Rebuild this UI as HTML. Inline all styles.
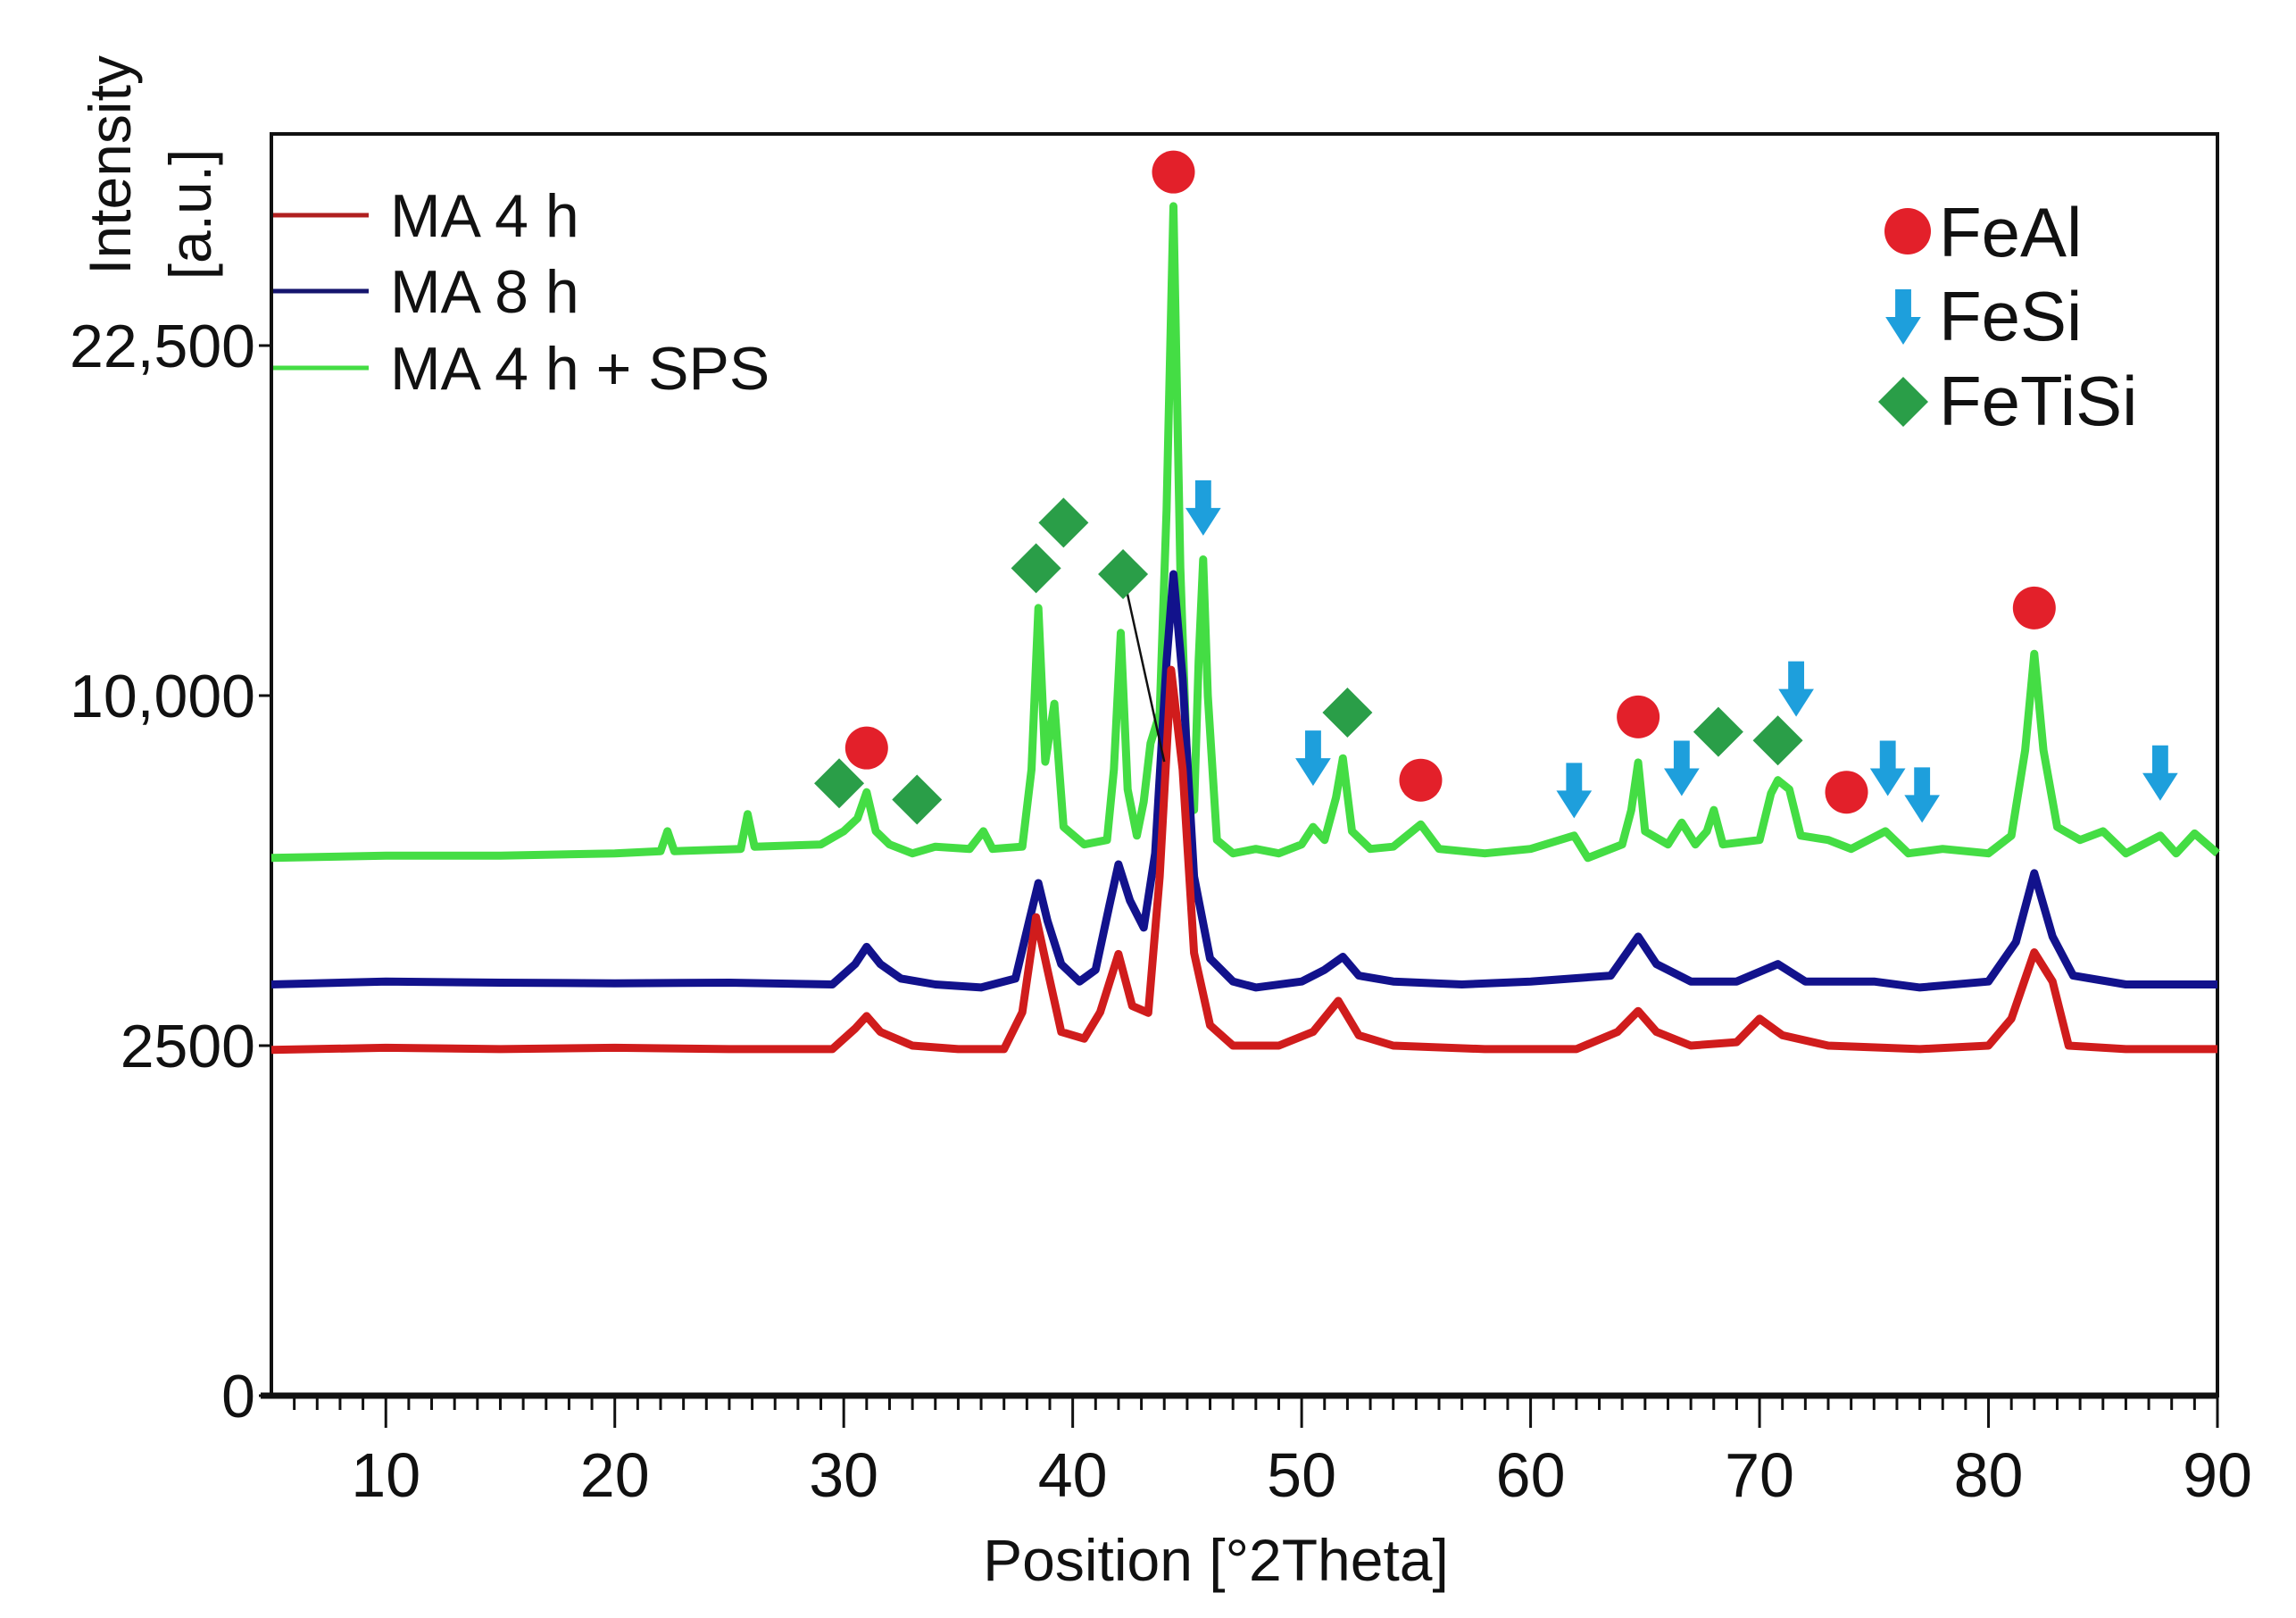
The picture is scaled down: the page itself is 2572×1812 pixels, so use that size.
<!DOCTYPE html>
<html><head><meta charset="utf-8"><style>
html,body{margin:0;padding:0;background:#fff;}
svg{display:block;font-family:"Liberation Sans",Arial,sans-serif;}
</style></head><body>
<svg id="chart" width="2572" height="1812" viewBox="0 0 2572 1812" xmlns="http://www.w3.org/2000/svg">
<rect width="2572" height="1812" fill="#fff"/>
<g id="axes"></g>
<g id="series"></g>
<g id="markers"></g>
</svg>
<script>
// ---- data ----
const xTicks = [10,20,30,40,50,60,70,80,90];
const yTicks = [0,2500,10000,22500];
const yTickLabels = ["0","2500","10,000","22,500"];
const ma4h = [[5,2440],[10,2470],[15,2450],[20,2470],[25,2450],[29.5,2450],[30.5,2750],[31,2940],[31.6,2700],[33,2500],[35,2450],[37,2450],[37.8,3000],[38.4,4670],[38.9,3700],[39.5,2700],[40.5,2600],[41.2,3000],[42,3980],[42.6,3100],[43.3,2990],[43.8,5500],[44.3,10750],[44.8,8000],[45.3,4000],[46,2800],[47,2500],[49,2500],[50.5,2700],[51.6,3180],[52.5,2650],[54,2500],[58,2450],[62,2450],[63.8,2700],[64.7,3020],[65.5,2700],[67,2500],[69,2550],[70,2900],[71,2650],[73,2500],[77,2450],[80,2500],[81,2900],[82,4010],[82.8,3500],[83.5,2500],[86,2450],[90,2450]];
const ma8h = [[5,3450],[10,3500],[15,3480],[20,3470],[25,3480],[29.5,3450],[30.5,3800],[31,4110],[31.6,3800],[32.5,3550],[34,3450],[36,3400],[37.5,3550],[38.1,4600],[38.5,5360],[38.9,4600],[39.5,3800],[40.3,3500],[41,3700],[41.6,4900],[42,5760],[42.5,5000],[43.1,4470],[43.6,6000],[44.1,11000],[44.4,13770],[44.8,10500],[45.3,5500],[46,3900],[47,3500],[48,3400],[50,3500],[51,3700],[51.8,3930],[52.5,3600],[54,3500],[57,3450],[60,3500],[63.5,3600],[64.7,4300],[65.5,3800],[67,3500],[69,3500],[70.8,3800],[72,3500],[75,3500],[77,3400],[80,3500],[81.2,4200],[82,5570],[82.8,4300],[83.7,3600],[86,3450],[90,3450]];
const ma4hSps = [[5,5900],[10,5950],[15,5950],[20,6000],[22,6050],[22.3,6500],[22.6,6050],[25.5,6100],[25.8,6900],[26.1,6150],[29,6200],[30,6500],[30.6,6800],[31,7430],[31.4,6500],[32,6200],[33,6000],[34,6150],[35.5,6100],[36.1,6500],[36.5,6100],[37.8,6150],[38.2,8000],[38.5,12660],[38.8,8200],[39.2,9770],[39.6,6600],[40.5,6200],[41.5,6300],[41.8,8000],[42.1,11870],[42.4,7500],[42.8,6400],[43.1,7200],[43.4,8680],[43.8,9500],[44.1,16000],[44.4,28870],[44.7,14000],[45.0,8000],[45.3,7000],[45.5,11000],[45.7,14270],[45.9,10000],[46.3,6300],[47,6000],[48,6100],[49,6000],[50,6200],[50.5,6600],[51,6300],[51.5,7300],[51.8,8290],[52.2,6500],[53,6100],[54,6150],[55.2,6660],[56,6100],[58,6000],[60,6100],[61.9,6400],[62.5,5900],[64,6200],[64.4,7000],[64.7,8180],[65,6500],[66,6200],[66.6,6700],[67.2,6200],[67.7,6500],[68,7000],[68.4,6200],[70,6300],[70.5,7400],[70.8,7730],[71.3,7500],[71.8,6400],[73,6300],[74,6100],[75.5,6500],[76.5,6000],[78,6100],[80,6000],[81,6400],[81.6,8500],[82,11230],[82.4,8500],[83,6600],[84,6300],[85,6500],[86,6000],[87.5,6400],[88.2,6000],[89,6450],[90,6000]];
const feAlPos = [[44.4,30550],[31,8560],[55.2,7730],[64.7,9400],[73.8,7430],[82,12660]];
const feSiPos = [[45.7,16080],[50.5,8290],[61.9,7470],[66.6,8030],[71.6,10190],[75.6,8030],[77.1,7360],[87.5,7910]];
const feTiSiPos = [[29.8,7650],[33.2,7250],[38.4,13970],[39.6,15550],[42.2,13770],[52,9520],[68.2,8990],[70.8,8760]];

// ---- scales ----
const X0=304, X1=2484, Y0=1563, TOP=150;
const xs = t => X0 + (t-5)*(X1-X0)/85;
const ys = v => Y0 - 7.84*Math.sqrt(Math.max(v,0));
const NS="http://www.w3.org/2000/svg";
function mk(tag, attrs, parent, txt){
  const e=document.createElementNS(NS,tag);
  for(const k in attrs) e.setAttribute(k,attrs[k]);
  if(txt!==undefined) e.textContent=txt;
  parent.appendChild(e); return e;
}
const axes=document.getElementById('axes');
const ser=document.getElementById('series');
const mkG=document.getElementById('markers');

// frame
let fr=mk('rect',{x:X0,y:TOP,width:X1-X0,height:Y0-TOP,fill:'none',stroke:'#111','stroke-width':4},axes);


let xl=mk('line',{x1:X0-12,y1:Y0,x2:X1,y2:Y0,stroke:'#111','stroke-width':7},axes);



// x ticks
for(let t=6;t<=90;t++){
  const major = t%10===0;
  const l=mk('line',{x1:xs(t),y1:Y0,x2:xs(t),y2:Y0+(major?36:16),stroke:'#111','stroke-width':3},axes);
  
  
}
xTicks.forEach(t=>{
  const tx=mk('text',{x:xs(t),y:1676,'font-size':70,'text-anchor':'middle',fill:'#111'},axes,String(t));
  
  
});
yTicks.forEach((v,i)=>{
  const l=mk('line',{x1:X0-14,y1:ys(v),x2:X0,y2:ys(v),stroke:'#111','stroke-width':3},axes);
  
  
  const tx=mk('text',{x:X0-18,y:ys(v)+24,'font-size':68,'text-anchor':'end',fill:'#111'},axes,yTickLabels[i]);
  
  
});
let xt=mk('text',{x:1362,y:1770,'font-size':66,'text-anchor':'middle',fill:'#111'},axes,'Position [°2Theta]');


let yt1=mk('text',{x:0,y:0,'font-size':66,'text-anchor':'middle',fill:'#111',transform:'translate(146,185) rotate(-90)'},axes,'Intensity');


let yt2=mk('text',{x:0,y:0,'font-size':66,'text-anchor':'middle',fill:'#111',transform:'translate(236,240) rotate(-90)'},axes,'[a.u.]');



// series
function drawSeries(arr,color,name){
  const d=arr.map((p,i)=>(i?'L':'M')+xs(p[0]).toFixed(1)+','+ys(p[1]).toFixed(1)).join(' ');
  const p=mk('path',{d:d,fill:'none',stroke:color,'stroke-width':9,'stroke-linejoin':'round'},ser);
  
  
}
drawSeries(ma4hSps,'#44dd44','series-ma-4h-sps');
drawSeries(ma8h,'#12128c','series-ma-8h');
drawSeries(ma4h,'#d01c1c','series-ma-4h');

// leader line
let ld=mk('line',{x1:xs(42.2),y1:ys(13770),x2:xs(44.0),y2:ys(8200),stroke:'#111','stroke-width':2.5},mkG);



function circle(cx,cy,r,parent,name){
  const c=mk('circle',{cx:cx,cy:cy,r:r,fill:'#e3202a'},parent);
  
  
}
function arrow(cx,cy,s,parent,name){
  const w=s*0.32,h=s;
  const d=`M${cx-w*0.45},${cy-h/2} L${cx+w*0.45},${cy-h/2} L${cx+w*0.45},${cy} L${cx+w},${cy} L${cx},${cy+h/2} L${cx-w},${cy} L${cx-w*0.45},${cy} Z`;
  const a=mk('path',{d:d,fill:'#1e9fdc'},parent);
  
  
}
function diamond(cx,cy,r,parent,name){
  const a=mk('path',{d:`M${cx},${cy-r} L${cx+r},${cy} L${cx},${cy+r} L${cx-r},${cy} Z`,fill:'#2a9e48'},parent);
  
  
}
feAlPos.forEach(p=>circle(xs(p[0]),ys(p[1]),24,mkG,'feal-marker'));
feSiPos.forEach(p=>arrow(xs(p[0]),ys(p[1]),62,mkG,'fesi-marker'));
feTiSiPos.forEach(p=>diamond(xs(p[0]),ys(p[1]),28,mkG,'fetisi-marker'));

// left legend
const leg=[['MA 4 h','#b02020',241],['MA 8 h','#15156e',326],['MA 4 h + SPS','#44dd44',412]];
leg.forEach(l=>{
  const ln=mk('line',{x1:X0+2,y1:l[2],x2:413,y2:l[2],stroke:l[1],'stroke-width':5},axes);
  
  
  const tx=mk('text',{x:437,y:l[2]+24,'font-size':68,fill:'#111'},axes,l[0]);
  
  
});
// right legend
circle(2137,259,26,axes,'legend-feal-symbol');
arrow(2132,355,62,axes,'legend-fesi-symbol');
diamond(2132,450,28,axes,'legend-fetisi-symbol');
[['FeAl',287],['FeSi',381],['FeTiSi',476]].forEach(l=>{
  const tx=mk('text',{x:2172,y:l[1],'font-size':78,fill:'#111'},axes,l[0]);
  
  
});
</script>
</body></html>
